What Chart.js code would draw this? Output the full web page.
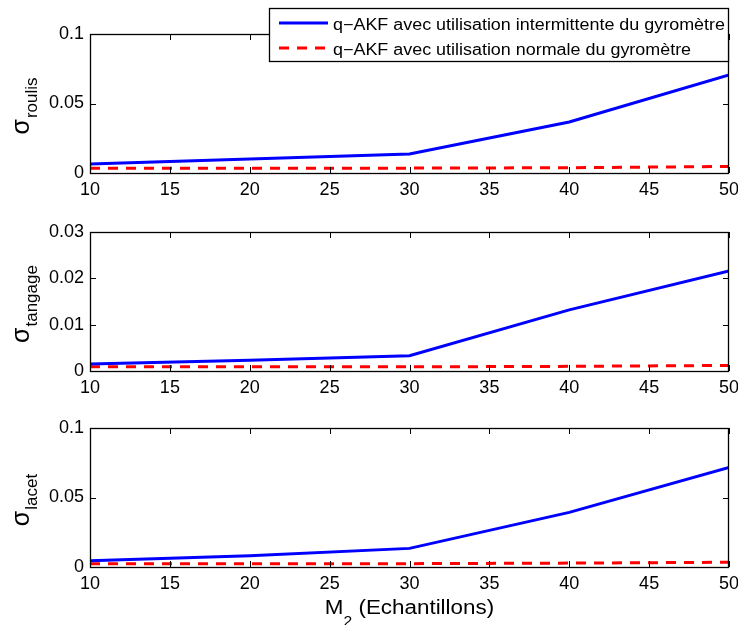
<!DOCTYPE html>
<html>
<head>
<meta charset="utf-8">
<script src="https://cdn.jsdelivr.net/npm/chart.js@4.4.1/dist/chart.umd.min.js"></script>
<style>
  body { margin: 0; background: #fff; overflow: hidden; }
  #wrap { position: relative; width: 738px; height: 625px; }
  canvas { position: absolute; left: 0; }
</style>
</head>
<body>
<div id="wrap">
  <canvas id="chartRoulis" width="738" height="205" style="top:0px"></canvas>
  <canvas id="chartTangage" width="738" height="196" style="top:205px"></canvas>
  <canvas id="chartLacet" width="738" height="224" style="top:401px"></canvas>
</div>
<script>
/* donnees */
const m2 = [10, 20, 30, 40, 50];
const xTicks = [10, 15, 20, 25, 30, 35, 40, 45, 50];

const roulisIntermittent = [0.0065, 0.0100, 0.0137, 0.0367, 0.0705];
const roulisNormal = [0.0034, 0.0034, 0.0035, 0.0038, 0.0047];

const tangageIntermittent = [0.0015, 0.0023, 0.0033, 0.0132, 0.0216];
const tangageNormal = [0.0009, 0.0009, 0.0009, 0.0010, 0.0012];

const lacetIntermittent = [0.0045, 0.0081, 0.0134, 0.0393, 0.0717];
const lacetNormal = [0.0024, 0.0024, 0.0024, 0.0028, 0.0034];

const labelIntermittent = "q\u2212AKF avec utilisation intermittente du gyromètre";
const labelNormal = "q\u2212AKF avec utilisation normale du gyromètre";

const FONT = "'Liberation Sans', Arial, Helvetica, sans-serif";

/* cadre + graduations vers l'interieur (style matlab) */
const frame = {
  id: "frame",
  afterDatasetsDraw(chart) {
    const { ctx, chartArea: a, scales } = chart;
    const x = scales.x, y = scales.y;
    ctx.save();
    ctx.strokeStyle = "#000";
    ctx.lineWidth = 1;
    ctx.beginPath();
    x.ticks.forEach((t) => {
      const px = Math.round(x.getPixelForValue(t.value)) + 0.5;
      ctx.moveTo(px, a.bottom);
      ctx.lineTo(px, a.bottom - 6);
      ctx.moveTo(px, a.top);
      ctx.lineTo(px, a.top + 6);
    });
    y.ticks.forEach((t) => {
      const py = Math.round(y.getPixelForValue(t.value)) + 0.5;
      ctx.moveTo(a.left, py);
      ctx.lineTo(a.left + 6, py);
      ctx.moveTo(a.right, py);
      ctx.lineTo(a.right - 6, py);
    });
    ctx.stroke();
    ctx.lineWidth = 1.3;
    ctx.strokeRect(a.left + 0.5, a.top + 0.5, a.right - a.left - 1, a.bottom - a.top);
    ctx.restore();
  },
};

/* sigma avec indice, a la verticale */
const sigmaTitle = {
  id: "sigmaTitle",
  afterDraw(chart, args, opts) {
    if (!opts.sub) return;
    const { ctx, chartArea: a } = chart;
    const cy = (a.top + a.bottom) / 2 + 3;
    ctx.save();
    ctx.fillStyle = "#000";
    ctx.font = "25px " + FONT;
    const w1 = ctx.measureText("\u03c3").width;
    ctx.font = "17px " + FONT;
    const w2 = ctx.measureText(opts.sub).width;
    const start = -(w1 + w2) / 2;
    ctx.translate(29, cy);
    ctx.rotate(-Math.PI / 2);
    ctx.textBaseline = "alphabetic";
    ctx.font = "25px " + FONT;
    ctx.fillText("\u03c3", start, 0);
    ctx.font = "17px " + FONT;
    ctx.fillText(opts.sub, start + w1 + 1, 8);
    ctx.restore();
  },
};

/* legende dessinee par dessus le premier graphe */
const boxLegend = {
  id: "boxLegend",
  afterDraw(chart, args, opts) {
    if (!opts.show) return;
    const ctx = chart.ctx;
    ctx.save();
    ctx.fillStyle = "#fff";
    ctx.fillRect(269.5, 8.5, 459, 53);
    ctx.strokeStyle = "#000";
    ctx.lineWidth = 1.3;
    ctx.strokeRect(269.5, 8.5, 459, 53);
    chart.data.datasets.forEach((ds, i) => {
      const yy = 23 + i * 25;
      ctx.strokeStyle = ds.borderColor;
      ctx.lineWidth = 3;
      ctx.setLineDash(ds.borderDash || []);
      ctx.beginPath();
      ctx.moveTo(279, yy);
      ctx.lineTo(328, yy);
      ctx.stroke();
      ctx.setLineDash([]);
      ctx.save();
      ctx.translate(333, yy + 7);
      ctx.scale(1.12, 1);
      ctx.fillStyle = "#000";
      ctx.font = "16px " + FONT;
      ctx.textBaseline = "alphabetic";
      ctx.fillText(ds.label, 0, 0);
      ctx.restore();
    });
    ctx.restore();
  },
};

/* titre de l'axe x : M2 (Echantillons) */
const xTitle = {
  id: "xTitle",
  afterDraw(chart, args, opts) {
    if (!opts.show) return;
    const { ctx, chartArea: a } = chart;
    const sx = 1.12;
    ctx.save();
    ctx.fillStyle = "#000";
    ctx.textBaseline = "alphabetic";
    ctx.font = "20px " + FONT;
    const wM = ctx.measureText("M").width;
    const wRest = ctx.measureText(" (Echantillons)").width;
    ctx.font = "14px " + FONT;
    const w2 = ctx.measureText("2").width;
    const total = (wM + w2 + wRest) * sx;
    const x0 = (a.left + a.right) / 2 - total / 2;
    const base = 614 - 401;
    ctx.translate(x0, base);
    ctx.scale(sx, 1);
    ctx.font = "20px " + FONT;
    ctx.fillText("M", 0, 0);
    ctx.font = "14px " + FONT;
    ctx.fillText("2", wM, 12);
    ctx.font = "20px " + FONT;
    ctx.fillText(" (Echantillons)", wM + w2, 0);
    ctx.restore();
  },
};

function makeChart(id, dataIntermittent, dataNormal, yMax, yStep, sub, padTop, xHeight, legend, xtitle) {
  const ctx = document.getElementById(id).getContext("2d");
  return new Chart(ctx, {
    type: "line",
    data: {
      labels: m2,
      datasets: [
        {
          label: labelIntermittent,
          data: m2.map((v, i) => ({ x: v, y: dataIntermittent[i] })),
          borderColor: "#0000ff",
          borderWidth: 3,
          pointRadius: 0,
          tension: 0,
        },
        {
          label: labelNormal,
          data: m2.map((v, i) => ({ x: v, y: dataNormal[i] })),
          borderColor: "#ff0000",
          borderWidth: 3,
          borderDash: [10, 8],
          pointRadius: 0,
          tension: 0,
        },
      ],
    },
    options: {
      responsive: false,
      animation: false,
      devicePixelRatio: 1,
      layout: { padding: { top: padTop, right: 9, left: 0, bottom: 0 } },
      plugins: {
        legend: { display: false },
        tooltip: { enabled: false },
        sigmaTitle: { sub: sub },
        boxLegend: { show: legend },
        xTitle: { show: xtitle },
      },
      scales: {
        x: {
          type: "linear",
          min: 10,
          max: 50,
          afterBuildTicks: (scale) => {
            scale.ticks = xTicks.map((v) => ({ value: v }));
          },
          afterFit: (scale) => {
            scale.height = xHeight;
            scale.paddingLeft = 0;
            scale.paddingRight = 0;
          },
          grid: { display: false, drawTicks: false },
          border: { display: false },
          ticks: {
            color: "#000",
            padding: 6,
            maxRotation: 0,
            autoSkip: false,
            font: { family: FONT, size: 18 },
          },
        },
        y: {
          min: 0,
          max: yMax,
          afterFit: (scale) => {
            scale.width = 90;
          },
          grid: { display: false, drawTicks: false },
          border: { display: false },
          ticks: {
            stepSize: yStep,
            color: "#000",
            padding: 6,
            font: { family: FONT, size: 18 },
            callback: (v) => String(+v.toFixed(4)),
          },
        },
      },
    },
    plugins: [frame, sigmaTitle, boxLegend, xTitle],
  });
}

makeChart("chartRoulis", roulisIntermittent, roulisNormal, 0.1, 0.05, "roulis", 34, 32, true, false);
makeChart("chartTangage", tangageIntermittent, tangageNormal, 0.03, 0.01, "tangage", 27, 30, false, false);
makeChart("chartLacet", lacetIntermittent, lacetNormal, 0.1, 0.05, "lacet", 27, 58, false, true);
</script>
</body>
</html>
